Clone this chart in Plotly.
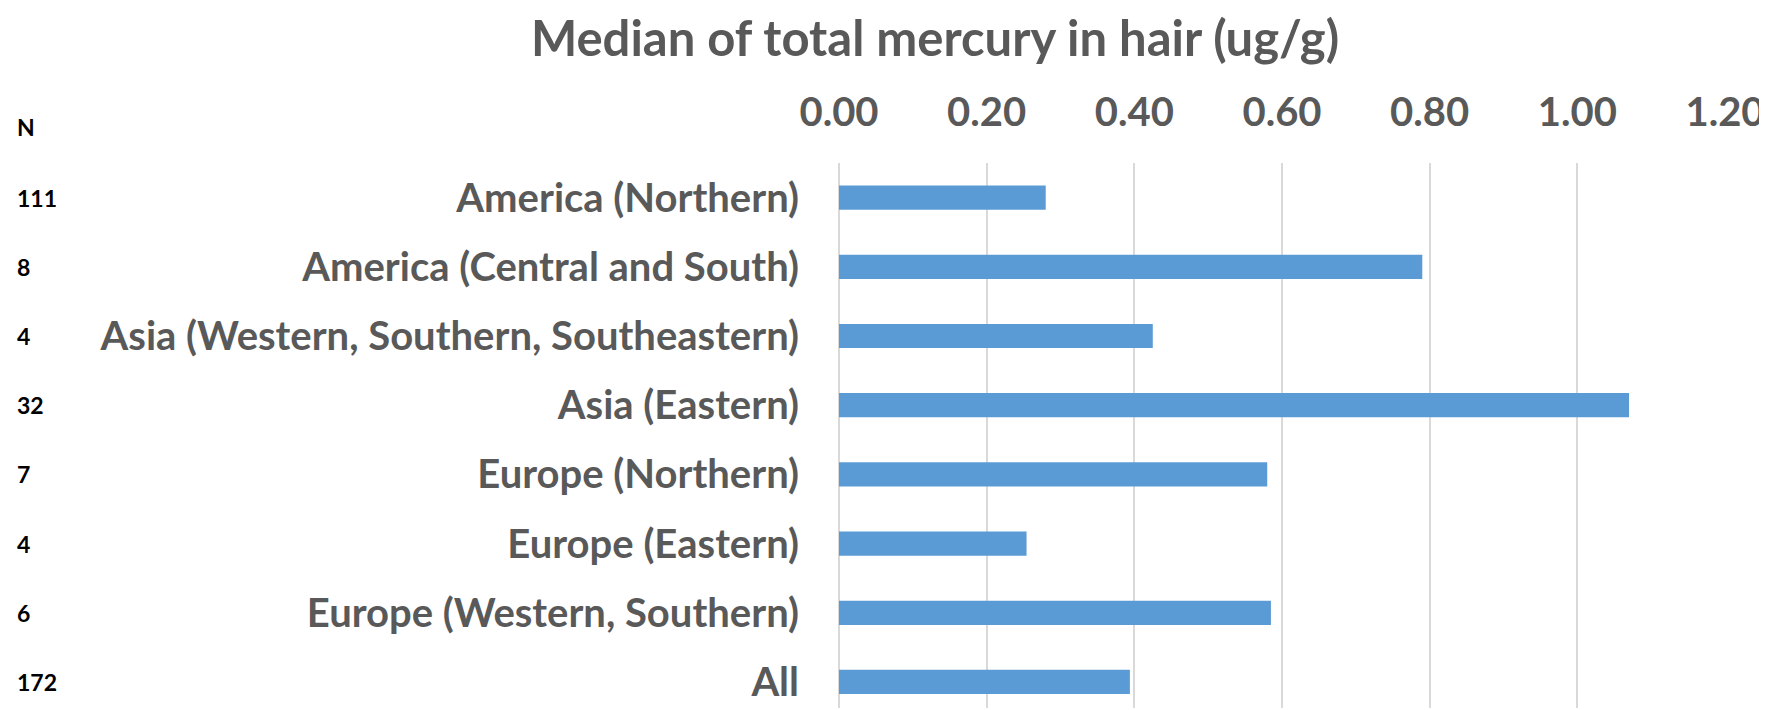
import plotly.graph_objects as go

categories = [
    "America (Northern)",
    "America (Central and South)",
    "Asia (Western, Southern, Southeastern)",
    "Asia (Eastern)",
    "Europe (Northern)",
    "Europe (Eastern)",
    "Europe (Western, Southern)",
    "All",
]
medians = [0.280, 0.790, 0.425, 1.070, 0.580, 0.254, 0.585, 0.394]
n_values = ["111", "8", "4", "32", "7", "4", "6", "172"]
x_ticks = [0.0, 0.2, 0.4, 0.6, 0.8, 1.0, 1.2]
x_tick_labels = ["0.00", "0.20", "0.40", "0.60", "0.80", "1.00", "1.20"]

# page body has an 8px default margin; compensate
OFF = 8
W, H = 1767 - OFF, 710 - OFF
L, R, T, B = 839 - OFF, 42, 163 - OFF, 2
plot_h = H - T - B
plot_w = W - L - R

FONT = "Lato"
GREY = "#595959"

fig = go.Figure()
fig.add_trace(go.Bar(
    y=categories,
    x=medians,
    orientation="h",
    width=0.35,
    marker=dict(color="#5b9bd5", line=dict(width=0)),
    hoverinfo="x+y",
))

n_x = (15 - OFF - L) / plot_w
annotations = [
    dict(text="N", xref="paper", yref="paper",
         x=n_x, y=(H - B - (127 - OFF)) / plot_h,
         xanchor="left", yanchor="middle", showarrow=False,
         font=dict(family=FONT, size=23, color="#000000", weight="bold"))
]
for cat, n in zip(categories, n_values):
    annotations.append(dict(
        text=n, xref="paper", yref="y",
        x=n_x, y=cat,
        xanchor="left", yanchor="middle", showarrow=False,
        font=dict(family=FONT, size=23, color="#000000", weight="bold")))

fig.update_layout(
    width=W, height=H,
    margin=dict(l=L, r=R, t=T, b=B, pad=0),
    plot_bgcolor="white", paper_bgcolor="white",
    showlegend=False,
    title=dict(text="Median of total mercury in hair (ug/g)",
               x=(935 - OFF) / W, xanchor="center", xref="container",
               y=1 - (39 - OFF) / H, yanchor="middle", yref="container",
               font=dict(family=FONT, size=49, color=GREY, weight="bold")),
    xaxis=dict(side="top", range=[0, 1.2], tickvals=x_ticks, ticktext=x_tick_labels,
               showgrid=True, gridcolor="#d9d9d9", gridwidth=1.5,
               zeroline=True, zerolinecolor="#d9d9d9", zerolinewidth=1.5,
               showline=False, ticks="", ticklabelstandoff=28,
               ticklabeloverflow="allow",
               tickfont=dict(family=FONT, size=40, color=GREY, weight="bold"),
               automargin=False, fixedrange=True),
    yaxis=dict(type="category", range=[7.376, -0.5],
               showgrid=False, zeroline=False, showline=False, ticks="",
               ticklabelstandoff=39,
               tickfont=dict(family=FONT, size=40, color=GREY, weight="bold"),
               automargin=False, fixedrange=True),
    annotations=annotations,
)

fig.write_html("out.html")
